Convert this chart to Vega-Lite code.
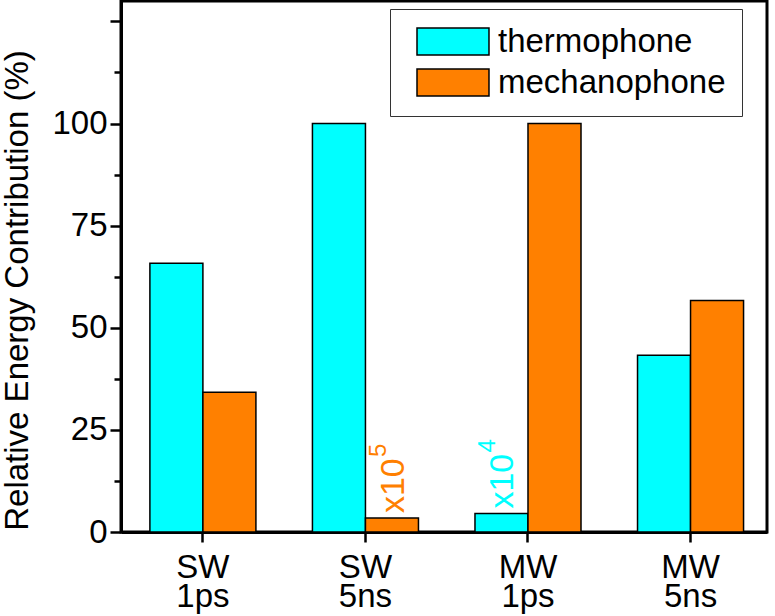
{
  "$schema": "https://vega.github.io/schema/vega-lite/v6.json",
  "width": 646,
  "height": 531,
  "autosize": {"type": "none"},
  "padding": {"left": 121, "top": 1, "right": 8, "bottom": 84},
  "background": "white",
  "datasets": {
    "bars": [
      {"group": "SW 1ps", "series": "thermophone", "value": 65.8},
      {"group": "SW 1ps", "series": "mechanophone", "value": 34.2},
      {"group": "SW 5ns", "series": "thermophone", "value": 100},
      {"group": "SW 5ns", "series": "mechanophone", "value": 3.4},
      {"group": "MW 1ps", "series": "thermophone", "value": 4.5},
      {"group": "MW 1ps", "series": "mechanophone", "value": 100},
      {"group": "MW 5ns", "series": "thermophone", "value": 43.3},
      {"group": "MW 5ns", "series": "mechanophone", "value": 56.7}
    ],
    "notes": [
      {"group": "SW 5ns", "series": "mechanophone", "value": 3.4, "mult": "x10", "exp": "5"},
      {"group": "MW 1ps", "series": "thermophone", "value": 4.5, "mult": "x10", "exp": "4"}
    ]
  },
  "config": {
    "font": "Liberation Sans",
    "view": {"stroke": "black", "strokeWidth": 3},
    "axis": {
      "labelFont": "Liberation Sans",
      "labelFontSize": 33,
      "labelColor": "black",
      "titleFont": "Liberation Sans",
      "titleFontSize": 33,
      "titleFontWeight": "normal",
      "titleColor": "black",
      "domainColor": "black",
      "domainWidth": 3,
      "tickColor": "black",
      "tickWidth": 2.5,
      "grid": false
    },
    "legend": {
      "strokeColor": "#333333",
      "strokeWidth": 1,
      "fillColor": "white"
    }
  },
  "layer": [
    {
      "data": {"name": "bars"},
      "mark": {"type": "bar", "stroke": "black", "strokeWidth": 1.5},
      "encoding": {
        "x": {
          "field": "group",
          "type": "nominal",
          "sort": null,
          "scale": {
            "domain": ["SW 1ps", "SW 5ns", "MW 1ps", "MW 5ns"],
            "paddingInner": 0.3477,
            "paddingOuter": 0.161,
            "align": 0.552
          },
          "axis": {
            "title": null,
            "labelAngle": 0,
            "labelExpr": "split(datum.label, ' ')",
            "labelLineHeight": 29,
            "labelBaseline": "top",
            "labelPadding": 9,
            "tickSize": 10,
            "bandPosition": 0.5
          }
        },
        "xOffset": {"field": "series", "type": "nominal", "sort": ["thermophone", "mechanophone"]},
        "y": {
          "field": "value",
          "type": "quantitative",
          "scale": {"domain": [0, 130], "nice": false},
          "axis": {
            "title": "Relative Energy Contribution (%)",
            "values": [0, 25, 50, 75, 100, 125],
            "labelExpr": "datum.value > 110 ? '' : datum.label",
            "tickSize": 11,
            "labelPadding": 3,
            "titleAngle": 270,
            "titleAlign": "center",
            "titleBaseline": "alphabetic",
            "titleX": -94,
            "titleY": 289
          }
        },
        "color": {
          "field": "series",
          "type": "nominal",
          "sort": ["thermophone", "mechanophone"],
          "scale": {"domain": ["thermophone", "mechanophone"], "range": ["#00FFFF", "#FF8000"]},
          "legend": {
            "title": null,
            "orient": "none",
            "legendX": 269,
            "legendY": 8,
            "direction": "vertical",
            "symbolType": "M-1,-1 L4.333,-1 L4.333,1 L-1,1 Z",
            "symbolSize": 729,
            "symbolStrokeColor": "black",
            "symbolStrokeWidth": 1.5,
            "symbolOpacity": 1,
            "symbolOffset": 8,
            "labelOffset": 51,
            "labelLimit": 400,
            "labelFont": "Liberation Sans",
            "labelFontSize": 33,
            "labelColor": "black",
            "rowPadding": 7,
            "padding": 16
          }
        }
      }
    },
    {
      "data": {"name": "notes"},
      "mark": {"type": "text", "angle": 270, "align": "left", "baseline": "alphabetic", "dx": 5, "dy": 12, "fontSize": 34, "font": "Liberation Sans"},
      "encoding": {
        "x": {"field": "group", "type": "nominal", "sort": null},
        "xOffset": {"field": "series", "type": "nominal", "sort": ["thermophone", "mechanophone"]},
        "y": {
          "field": "value",
          "type": "quantitative",
          "axis": {
            "orient": "left",
            "values": [12.5, 37.5, 62.5, 87.5, 112.5],
            "labels": false,
            "domain": false,
            "tickSize": 7,
            "title": null
          }
        },
        "text": {"field": "mult"},
        "color": {"field": "series", "type": "nominal", "legend": null}
      }
    },
    {
      "data": {"name": "notes"},
      "mark": {"type": "text", "angle": 270, "align": "left", "baseline": "alphabetic", "dx": 61, "dy": -6, "fontSize": 24, "font": "Liberation Sans"},
      "encoding": {
        "x": {"field": "group", "type": "nominal", "sort": null},
        "xOffset": {"field": "series", "type": "nominal", "sort": ["thermophone", "mechanophone"]},
        "y": {"field": "value", "type": "quantitative", "axis": null},
        "text": {"field": "exp"},
        "color": {"field": "series", "type": "nominal", "legend": null}
      }
    }
  ],
  "resolve": {"axis": {"y": "independent"}}
}
